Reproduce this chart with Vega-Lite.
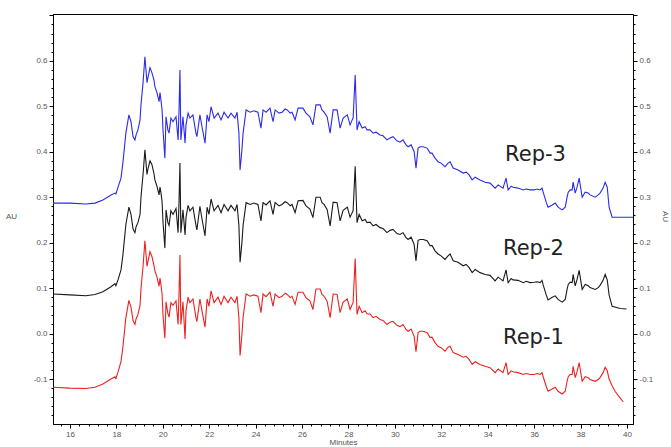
{
"$schema": "https://vega.github.io/schema/vega-lite/v6.json",
"width": 580, "height": 410,
"autosize": {"type": "none"},
"padding": {"left": 53, "top": 14, "right": 38, "bottom": 23},
"background": "white",
"config": {
  "view": {"stroke": "#000", "strokeWidth": 1},
  "axis": {"domainColor": "#000", "tickColor": "#000", "domainWidth": 1, "tickWidth": 1, "grid": false,
    "labelFont": "Liberation Sans", "labelFontSize": 8, "labelColor": "#555", "labelOverlap": false, "labelFlush": false,
    "titleFont": "Liberation Sans", "titleFontSize": 8, "titleFontWeight": "normal", "titleColor": "#555"}
},
"datasets": {
"r3": [
{"t":15.27,"v":0.287},{"t":16.00,"v":0.287},{"t":16.69,"v":0.285},{"t":17.08,"v":0.287},{"t":17.42,"v":0.294},{"t":17.77,"v":0.305},{"t":17.94,"v":0.309},{"t":17.98,"v":0.307},{"t":18.07,"v":0.322},{"t":18.20,"v":0.342},{"t":18.28,"v":0.375},{"t":18.41,"v":0.441},{"t":18.54,"v":0.481},{"t":18.63,"v":0.466},{"t":18.72,"v":0.433},{"t":18.80,"v":0.426},{"t":18.85,"v":0.437},{"t":18.93,"v":0.448},{"t":19.02,"v":0.470},{"t":19.06,"v":0.503},{"t":19.15,"v":0.552},{"t":19.23,"v":0.609},{"t":19.32,"v":0.552},{"t":19.36,"v":0.563},{"t":19.45,"v":0.585},{"t":19.53,"v":0.574},{"t":19.62,"v":0.558},{"t":19.66,"v":0.543},{"t":19.75,"v":0.530},{"t":19.84,"v":0.510},{"t":19.88,"v":0.530},{"t":19.92,"v":0.514},{"t":19.97,"v":0.492},{"t":20.01,"v":0.448},{"t":20.09,"v":0.386},{"t":20.14,"v":0.477},{"t":20.22,"v":0.448},{"t":20.27,"v":0.441},{"t":20.35,"v":0.474},{"t":20.44,"v":0.466},{"t":20.57,"v":0.477},{"t":20.66,"v":0.426},{"t":20.70,"v":0.492},{"t":20.74,"v":0.580},{"t":20.78,"v":0.426},{"t":20.87,"v":0.477},{"t":20.96,"v":0.419},{"t":21.00,"v":0.459},{"t":21.09,"v":0.485},{"t":21.17,"v":0.474},{"t":21.30,"v":0.481},{"t":21.43,"v":0.441},{"t":21.47,"v":0.433},{"t":21.60,"v":0.481},{"t":21.69,"v":0.455},{"t":21.82,"v":0.419},{"t":21.91,"v":0.481},{"t":21.99,"v":0.466},{"t":22.08,"v":0.499},{"t":22.21,"v":0.474},{"t":22.38,"v":0.485},{"t":22.51,"v":0.470},{"t":22.64,"v":0.487},{"t":22.81,"v":0.474},{"t":22.94,"v":0.485},{"t":23.11,"v":0.474},{"t":23.20,"v":0.487},{"t":23.28,"v":0.441},{"t":23.33,"v":0.360},{"t":23.41,"v":0.404},{"t":23.46,"v":0.441},{"t":23.59,"v":0.492},{"t":23.76,"v":0.487},{"t":23.93,"v":0.490},{"t":24.10,"v":0.487},{"t":24.23,"v":0.452},{"t":24.32,"v":0.492},{"t":24.45,"v":0.487},{"t":24.62,"v":0.496},{"t":24.75,"v":0.466},{"t":24.84,"v":0.492},{"t":25.01,"v":0.485},{"t":25.14,"v":0.487},{"t":25.27,"v":0.494},{"t":25.36,"v":0.492},{"t":25.49,"v":0.485},{"t":25.57,"v":0.487},{"t":25.70,"v":0.470},{"t":25.83,"v":0.496},{"t":26.04,"v":0.496},{"t":26.17,"v":0.485},{"t":26.34,"v":0.477},{"t":26.47,"v":0.459},{"t":26.60,"v":0.503},{"t":26.78,"v":0.503},{"t":26.86,"v":0.492},{"t":26.95,"v":0.487},{"t":27.08,"v":0.477},{"t":27.21,"v":0.441},{"t":27.34,"v":0.492},{"t":27.51,"v":0.492},{"t":27.64,"v":0.452},{"t":27.77,"v":0.474},{"t":27.95,"v":0.481},{"t":28.07,"v":0.459},{"t":28.16,"v":0.470},{"t":28.20,"v":0.474},{"t":28.29,"v":0.569},{"t":28.37,"v":0.448},{"t":28.46,"v":0.466},{"t":28.59,"v":0.452},{"t":28.72,"v":0.455},{"t":28.80,"v":0.448},{"t":28.93,"v":0.448},{"t":29.06,"v":0.441},{"t":29.19,"v":0.443},{"t":29.36,"v":0.437},{"t":29.49,"v":0.435},{"t":29.66,"v":0.426},{"t":29.79,"v":0.430},{"t":29.92,"v":0.433},{"t":30.09,"v":0.424},{"t":30.22,"v":0.421},{"t":30.35,"v":0.426},{"t":30.48,"v":0.415},{"t":30.57,"v":0.411},{"t":30.70,"v":0.415},{"t":30.83,"v":0.400},{"t":30.91,"v":0.364},{"t":31.00,"v":0.408},{"t":31.09,"v":0.411},{"t":31.22,"v":0.411},{"t":31.39,"v":0.408},{"t":31.52,"v":0.397},{"t":31.60,"v":0.397},{"t":31.73,"v":0.386},{"t":31.86,"v":0.378},{"t":31.99,"v":0.375},{"t":32.16,"v":0.367},{"t":32.29,"v":0.375},{"t":32.38,"v":0.378},{"t":32.51,"v":0.364},{"t":32.72,"v":0.360},{"t":32.94,"v":0.353},{"t":33.07,"v":0.355},{"t":33.20,"v":0.349},{"t":33.33,"v":0.338},{"t":33.46,"v":0.344},{"t":33.67,"v":0.338},{"t":33.89,"v":0.333},{"t":34.10,"v":0.331},{"t":34.32,"v":0.320},{"t":34.45,"v":0.327},{"t":34.66,"v":0.320},{"t":34.79,"v":0.342},{"t":34.88,"v":0.316},{"t":35.01,"v":0.324},{"t":35.09,"v":0.322},{"t":35.31,"v":0.320},{"t":35.53,"v":0.316},{"t":35.66,"v":0.318},{"t":35.83,"v":0.316},{"t":36.00,"v":0.316},{"t":36.13,"v":0.318},{"t":36.26,"v":0.316},{"t":36.34,"v":0.320},{"t":36.39,"v":0.311},{"t":36.52,"v":0.289},{"t":36.60,"v":0.278},{"t":36.78,"v":0.283},{"t":36.91,"v":0.287},{"t":37.03,"v":0.278},{"t":37.21,"v":0.272},{"t":37.34,"v":0.278},{"t":37.42,"v":0.300},{"t":37.47,"v":0.311},{"t":37.55,"v":0.316},{"t":37.64,"v":0.316},{"t":37.68,"v":0.333},{"t":37.77,"v":0.309},{"t":37.85,"v":0.322},{"t":37.94,"v":0.342},{"t":38.07,"v":0.300},{"t":38.20,"v":0.311},{"t":38.33,"v":0.309},{"t":38.41,"v":0.305},{"t":38.63,"v":0.300},{"t":38.76,"v":0.305},{"t":38.84,"v":0.309},{"t":38.97,"v":0.320},{"t":39.06,"v":0.333},{"t":39.15,"v":0.322},{"t":39.23,"v":0.278},{"t":39.36,"v":0.256},{"t":39.71,"v":0.256},{"t":40.26,"v":0.256}
],
"r2": [
{"t":15.27,"v":0.087},{"t":16.00,"v":0.085},{"t":16.69,"v":0.083},{"t":17.08,"v":0.086},{"t":17.42,"v":0.092},{"t":17.77,"v":0.103},{"t":17.94,"v":0.110},{"t":17.98,"v":0.105},{"t":18.07,"v":0.118},{"t":18.20,"v":0.140},{"t":18.28,"v":0.172},{"t":18.41,"v":0.240},{"t":18.54,"v":0.278},{"t":18.63,"v":0.262},{"t":18.72,"v":0.230},{"t":18.80,"v":0.222},{"t":18.85,"v":0.235},{"t":18.93,"v":0.244},{"t":19.02,"v":0.262},{"t":19.06,"v":0.300},{"t":19.15,"v":0.350},{"t":19.23,"v":0.404},{"t":19.32,"v":0.350},{"t":19.36,"v":0.362},{"t":19.45,"v":0.380},{"t":19.53,"v":0.372},{"t":19.62,"v":0.352},{"t":19.66,"v":0.338},{"t":19.75,"v":0.324},{"t":19.84,"v":0.305},{"t":19.88,"v":0.322},{"t":19.92,"v":0.310},{"t":19.97,"v":0.290},{"t":20.01,"v":0.245},{"t":20.09,"v":0.188},{"t":20.14,"v":0.272},{"t":20.22,"v":0.244},{"t":20.27,"v":0.238},{"t":20.35,"v":0.270},{"t":20.44,"v":0.262},{"t":20.57,"v":0.275},{"t":20.66,"v":0.222},{"t":20.70,"v":0.290},{"t":20.74,"v":0.375},{"t":20.78,"v":0.222},{"t":20.87,"v":0.272},{"t":20.96,"v":0.217},{"t":21.00,"v":0.255},{"t":21.09,"v":0.282},{"t":21.17,"v":0.270},{"t":21.30,"v":0.278},{"t":21.43,"v":0.238},{"t":21.47,"v":0.228},{"t":21.60,"v":0.280},{"t":21.69,"v":0.252},{"t":21.82,"v":0.215},{"t":21.91,"v":0.278},{"t":21.99,"v":0.262},{"t":22.08,"v":0.296},{"t":22.21,"v":0.270},{"t":22.38,"v":0.282},{"t":22.51,"v":0.266},{"t":22.64,"v":0.284},{"t":22.81,"v":0.270},{"t":22.94,"v":0.282},{"t":23.11,"v":0.270},{"t":23.20,"v":0.284},{"t":23.28,"v":0.238},{"t":23.33,"v":0.157},{"t":23.41,"v":0.200},{"t":23.46,"v":0.238},{"t":23.59,"v":0.288},{"t":23.76,"v":0.284},{"t":23.93,"v":0.287},{"t":24.10,"v":0.284},{"t":24.23,"v":0.248},{"t":24.32,"v":0.288},{"t":24.45,"v":0.283},{"t":24.62,"v":0.292},{"t":24.75,"v":0.262},{"t":24.84,"v":0.288},{"t":25.01,"v":0.281},{"t":25.14,"v":0.284},{"t":25.27,"v":0.290},{"t":25.36,"v":0.288},{"t":25.49,"v":0.281},{"t":25.57,"v":0.284},{"t":25.70,"v":0.266},{"t":25.83,"v":0.292},{"t":26.04,"v":0.293},{"t":26.17,"v":0.281},{"t":26.34,"v":0.274},{"t":26.47,"v":0.255},{"t":26.60,"v":0.300},{"t":26.78,"v":0.300},{"t":26.86,"v":0.288},{"t":26.95,"v":0.284},{"t":27.08,"v":0.273},{"t":27.21,"v":0.237},{"t":27.34,"v":0.289},{"t":27.51,"v":0.288},{"t":27.64,"v":0.248},{"t":27.77,"v":0.271},{"t":27.95,"v":0.278},{"t":28.07,"v":0.256},{"t":28.16,"v":0.266},{"t":28.20,"v":0.270},{"t":28.29,"v":0.368},{"t":28.37,"v":0.244},{"t":28.46,"v":0.262},{"t":28.59,"v":0.248},{"t":28.72,"v":0.251},{"t":28.80,"v":0.244},{"t":28.93,"v":0.245},{"t":29.06,"v":0.237},{"t":29.19,"v":0.240},{"t":29.36,"v":0.233},{"t":29.49,"v":0.231},{"t":29.66,"v":0.222},{"t":29.79,"v":0.227},{"t":29.92,"v":0.229},{"t":30.09,"v":0.220},{"t":30.22,"v":0.218},{"t":30.35,"v":0.222},{"t":30.48,"v":0.211},{"t":30.57,"v":0.207},{"t":30.70,"v":0.212},{"t":30.83,"v":0.196},{"t":30.91,"v":0.160},{"t":31.00,"v":0.205},{"t":31.09,"v":0.207},{"t":31.22,"v":0.207},{"t":31.39,"v":0.204},{"t":31.52,"v":0.193},{"t":31.60,"v":0.194},{"t":31.73,"v":0.182},{"t":31.86,"v":0.175},{"t":31.99,"v":0.171},{"t":32.16,"v":0.163},{"t":32.29,"v":0.171},{"t":32.38,"v":0.175},{"t":32.51,"v":0.160},{"t":32.72,"v":0.157},{"t":32.94,"v":0.149},{"t":33.07,"v":0.152},{"t":33.20,"v":0.145},{"t":33.33,"v":0.134},{"t":33.46,"v":0.141},{"t":33.67,"v":0.134},{"t":33.89,"v":0.130},{"t":34.10,"v":0.128},{"t":34.32,"v":0.116},{"t":34.45,"v":0.124},{"t":34.66,"v":0.116},{"t":34.79,"v":0.140},{"t":34.88,"v":0.112},{"t":35.01,"v":0.121},{"t":35.09,"v":0.118},{"t":35.31,"v":0.117},{"t":35.53,"v":0.112},{"t":35.66,"v":0.115},{"t":35.83,"v":0.112},{"t":36.00,"v":0.113},{"t":36.13,"v":0.114},{"t":36.26,"v":0.112},{"t":36.34,"v":0.117},{"t":36.39,"v":0.107},{"t":36.52,"v":0.085},{"t":36.60,"v":0.074},{"t":36.78,"v":0.080},{"t":36.91,"v":0.083},{"t":37.03,"v":0.075},{"t":37.21,"v":0.069},{"t":37.34,"v":0.075},{"t":37.42,"v":0.097},{"t":37.47,"v":0.108},{"t":37.55,"v":0.113},{"t":37.64,"v":0.112},{"t":37.68,"v":0.130},{"t":37.77,"v":0.105},{"t":37.85,"v":0.119},{"t":37.94,"v":0.139},{"t":38.07,"v":0.097},{"t":38.20,"v":0.108},{"t":38.33,"v":0.105},{"t":38.41,"v":0.101},{"t":38.63,"v":0.097},{"t":38.76,"v":0.101},{"t":38.84,"v":0.106},{"t":38.97,"v":0.117},{"t":39.06,"v":0.130},{"t":39.15,"v":0.118},{"t":39.23,"v":0.085},{"t":39.36,"v":0.060},{"t":39.71,"v":0.055},{"t":39.98,"v":0.054}
],
"r1": [
{"t":15.27,"v":-0.118},{"t":16.00,"v":-0.120},{"t":16.69,"v":-0.121},{"t":17.08,"v":-0.118},{"t":17.42,"v":-0.111},{"t":17.77,"v":-0.100},{"t":17.94,"v":-0.095},{"t":17.98,"v":-0.099},{"t":18.07,"v":-0.085},{"t":18.20,"v":-0.062},{"t":18.28,"v":-0.030},{"t":18.41,"v":0.035},{"t":18.54,"v":0.073},{"t":18.63,"v":0.058},{"t":18.72,"v":0.028},{"t":18.80,"v":0.020},{"t":18.85,"v":0.032},{"t":18.93,"v":0.042},{"t":19.02,"v":0.062},{"t":19.06,"v":0.098},{"t":19.15,"v":0.148},{"t":19.23,"v":0.204},{"t":19.32,"v":0.148},{"t":19.36,"v":0.158},{"t":19.45,"v":0.180},{"t":19.53,"v":0.170},{"t":19.62,"v":0.150},{"t":19.66,"v":0.138},{"t":19.75,"v":0.124},{"t":19.84,"v":0.104},{"t":19.88,"v":0.122},{"t":19.92,"v":0.108},{"t":19.97,"v":0.087},{"t":20.01,"v":0.040},{"t":20.09,"v":-0.010},{"t":20.14,"v":0.070},{"t":20.22,"v":0.044},{"t":20.27,"v":0.036},{"t":20.35,"v":0.068},{"t":20.44,"v":0.062},{"t":20.57,"v":0.072},{"t":20.66,"v":0.020},{"t":20.70,"v":0.088},{"t":20.74,"v":0.173},{"t":20.78,"v":0.020},{"t":20.87,"v":0.070},{"t":20.96,"v":-0.012},{"t":21.00,"v":0.050},{"t":21.09,"v":0.080},{"t":21.17,"v":0.068},{"t":21.30,"v":0.076},{"t":21.43,"v":0.035},{"t":21.47,"v":0.026},{"t":21.60,"v":0.076},{"t":21.69,"v":0.050},{"t":21.82,"v":0.014},{"t":21.91,"v":0.076},{"t":21.99,"v":0.060},{"t":22.08,"v":0.094},{"t":22.21,"v":0.068},{"t":22.38,"v":0.080},{"t":22.51,"v":0.064},{"t":22.64,"v":0.082},{"t":22.81,"v":0.068},{"t":22.94,"v":0.080},{"t":23.11,"v":0.068},{"t":23.20,"v":0.082},{"t":23.28,"v":0.035},{"t":23.33,"v":-0.048},{"t":23.41,"v":-0.002},{"t":23.46,"v":0.036},{"t":23.59,"v":0.087},{"t":23.76,"v":0.082},{"t":23.93,"v":0.085},{"t":24.10,"v":0.082},{"t":24.23,"v":0.046},{"t":24.32,"v":0.087},{"t":24.45,"v":0.081},{"t":24.62,"v":0.091},{"t":24.75,"v":0.060},{"t":24.84,"v":0.087},{"t":25.01,"v":0.079},{"t":25.14,"v":0.082},{"t":25.27,"v":0.089},{"t":25.36,"v":0.086},{"t":25.49,"v":0.079},{"t":25.57,"v":0.082},{"t":25.70,"v":0.064},{"t":25.83,"v":0.091},{"t":26.04,"v":0.091},{"t":26.17,"v":0.079},{"t":26.34,"v":0.072},{"t":26.47,"v":0.053},{"t":26.60,"v":0.098},{"t":26.78,"v":0.098},{"t":26.86,"v":0.086},{"t":26.95,"v":0.082},{"t":27.08,"v":0.071},{"t":27.21,"v":0.035},{"t":27.34,"v":0.087},{"t":27.51,"v":0.086},{"t":27.64,"v":0.046},{"t":27.77,"v":0.069},{"t":27.95,"v":0.076},{"t":28.07,"v":0.053},{"t":28.16,"v":0.064},{"t":28.20,"v":0.068},{"t":28.29,"v":0.165},{"t":28.37,"v":0.042},{"t":28.46,"v":0.060},{"t":28.59,"v":0.046},{"t":28.72,"v":0.050},{"t":28.80,"v":0.043},{"t":28.93,"v":0.043},{"t":29.06,"v":0.035},{"t":29.19,"v":0.038},{"t":29.36,"v":0.031},{"t":29.49,"v":0.029},{"t":29.66,"v":0.020},{"t":29.79,"v":0.025},{"t":29.92,"v":0.027},{"t":30.09,"v":0.018},{"t":30.22,"v":0.015},{"t":30.35,"v":0.020},{"t":30.48,"v":0.009},{"t":30.57,"v":0.005},{"t":30.70,"v":0.010},{"t":30.83,"v":-0.006},{"t":30.91,"v":-0.040},{"t":31.00,"v":0.002},{"t":31.09,"v":0.005},{"t":31.22,"v":0.005},{"t":31.39,"v":0.002},{"t":31.52,"v":-0.009},{"t":31.60,"v":-0.008},{"t":31.73,"v":-0.020},{"t":31.86,"v":-0.028},{"t":31.99,"v":-0.031},{"t":32.16,"v":-0.039},{"t":32.29,"v":-0.030},{"t":32.38,"v":-0.028},{"t":32.51,"v":-0.042},{"t":32.72,"v":-0.046},{"t":32.94,"v":-0.052},{"t":33.07,"v":-0.050},{"t":33.20,"v":-0.057},{"t":33.33,"v":-0.068},{"t":33.46,"v":-0.062},{"t":33.67,"v":-0.068},{"t":33.89,"v":-0.072},{"t":34.10,"v":-0.075},{"t":34.32,"v":-0.086},{"t":34.45,"v":-0.078},{"t":34.66,"v":-0.086},{"t":34.79,"v":-0.064},{"t":34.88,"v":-0.090},{"t":35.01,"v":-0.082},{"t":35.09,"v":-0.084},{"t":35.31,"v":-0.086},{"t":35.53,"v":-0.090},{"t":35.66,"v":-0.088},{"t":35.83,"v":-0.090},{"t":36.00,"v":-0.090},{"t":36.13,"v":-0.088},{"t":36.26,"v":-0.090},{"t":36.34,"v":-0.086},{"t":36.39,"v":-0.095},{"t":36.52,"v":-0.116},{"t":36.60,"v":-0.127},{"t":36.78,"v":-0.122},{"t":36.91,"v":-0.118},{"t":37.03,"v":-0.127},{"t":37.21,"v":-0.133},{"t":37.34,"v":-0.127},{"t":37.42,"v":-0.105},{"t":37.47,"v":-0.095},{"t":37.55,"v":-0.090},{"t":37.64,"v":-0.090},{"t":37.68,"v":-0.072},{"t":37.77,"v":-0.097},{"t":37.85,"v":-0.084},{"t":37.94,"v":-0.064},{"t":38.07,"v":-0.105},{"t":38.20,"v":-0.095},{"t":38.33,"v":-0.097},{"t":38.41,"v":-0.101},{"t":38.63,"v":-0.105},{"t":38.76,"v":-0.101},{"t":38.84,"v":-0.097},{"t":38.97,"v":-0.086},{"t":39.06,"v":-0.074},{"t":39.15,"v":-0.082},{"t":39.23,"v":-0.100},{"t":39.36,"v":-0.115},{"t":39.50,"v":-0.128},{"t":39.71,"v":-0.142},{"t":39.84,"v":-0.150}
],
"labels": [
{"t":34.75,"v":0.380,"label":"Rep-3"},
{"t":34.66,"v":0.173,"label":"Rep-2"},
{"t":34.66,"v":-0.023,"label":"Rep-1"}
]
},
"encoding": {
  "x": {"field": "t", "type": "quantitative",
    "scale": {"domain": [15.27, 40.26], "nice": false, "zero": false},
    "axis": {"title": "Minutes", "titleX": 290, "titleY": 14, "titleBaseline": "top", "titleAlign": "center",
      "values": [15.6,16,16.4,16.8,17.2,17.6,18,18.4,18.8,19.2,19.6,20,20.4,20.8,21.2,21.6,22,22.4,22.8,23.2,23.6,24,24.4,24.8,25.2,25.6,26,26.4,26.8,27.2,27.6,28,28.4,28.8,29.2,29.6,30,30.4,30.8,31.2,31.6,32,32.4,32.8,33.2,33.6,34,34.4,34.8,35.2,35.6,36,36.4,36.8,37.2,37.6,38,38.4,38.8,39.2,39.6,40],
      "labelExpr": "abs(datum.value/2 - round(datum.value/2)) < 0.001 ? format(datum.value, 'd') : ''",
      "tickSize": {"condition": {"test": "abs(datum.value/2 - round(datum.value/2)) < 0.001", "value": 4}, "value": 2},
      "labelPadding": 2}
  }
},
"layer": [
  {"data": {"name": "r3"}, "mark": {"type": "line", "color": "#2b2bea", "strokeWidth": 1.1},
   "encoding": {"y": {"field": "v", "type": "quantitative", "scale": {"domain": [-0.199, 0.703], "nice": false, "zero": false},
     "axis": {"orient": "left", "title": "AU", "titleAngle": 0, "titleX": -42, "titleY": 202, "titleAlign": "center", "titleBaseline": "middle",
       "values": [-0.18,-0.16,-0.14,-0.12,-0.1,-0.08,-0.06,-0.04,-0.02,0,0.02,0.04,0.06,0.08,0.1,0.12,0.14,0.16,0.18,0.2,0.22,0.24,0.26,0.28,0.3,0.32,0.34,0.36,0.38,0.4,0.42,0.44,0.46,0.48,0.5,0.52,0.54,0.56,0.58,0.6,0.62,0.64,0.66,0.68,0.7],
       "labelExpr": "abs(datum.value*10 - round(datum.value*10)) < 0.001 && datum.value < 0.65 ? replace(replace(format(datum.value, '.1f'), '\u2212', '-'), '-0.0', '0.0') : ''",
       "tickSize": {"condition": {"test": "abs(datum.value*10 - round(datum.value*10)) < 0.001", "value": 4}, "value": 2},
       "labelPadding": 2}}}},
  {"data": {"name": "r2"}, "mark": {"type": "line", "color": "#1a1a1a", "strokeWidth": 1.1},
   "encoding": {"y": {"field": "v", "type": "quantitative", "scale": {"domain": [-0.199, 0.703], "nice": false, "zero": false},
     "axis": {"orient": "right", "title": "AU", "titleAngle": 90, "titleX": 31, "titleY": 202, "titleAlign": "center", "titleBaseline": "middle",
       "values": [-0.18,-0.16,-0.14,-0.12,-0.1,-0.08,-0.06,-0.04,-0.02,0,0.02,0.04,0.06,0.08,0.1,0.12,0.14,0.16,0.18,0.2,0.22,0.24,0.26,0.28,0.3,0.32,0.34,0.36,0.38,0.4,0.42,0.44,0.46,0.48,0.5,0.52,0.54,0.56,0.58,0.6,0.62,0.64,0.66,0.68,0.7],
       "labelExpr": "abs(datum.value*10 - round(datum.value*10)) < 0.001 && datum.value < 0.65 ? replace(replace(format(datum.value, '.1f'), '\u2212', '-'), '-0.0', '0.0') : ''",
       "tickSize": {"condition": {"test": "abs(datum.value*10 - round(datum.value*10)) < 0.001", "value": 4}, "value": 2},
       "labelPadding": 2}}}},
  {"data": {"name": "r1"}, "mark": {"type": "line", "color": "#ee2020", "strokeWidth": 1.1},
   "encoding": {"y": {"field": "v", "type": "quantitative", "axis": null}}},
  {"data": {"name": "labels"}, "mark": {"type": "text", "align": "left", "baseline": "alphabetic", "font": "DejaVu Sans", "fontSize": 21, "color": "#222"},
   "encoding": {"y": {"field": "v", "type": "quantitative", "axis": null}, "text": {"field": "label"}}}
],
"resolve": {"axis": {"y": "independent"}}
}
